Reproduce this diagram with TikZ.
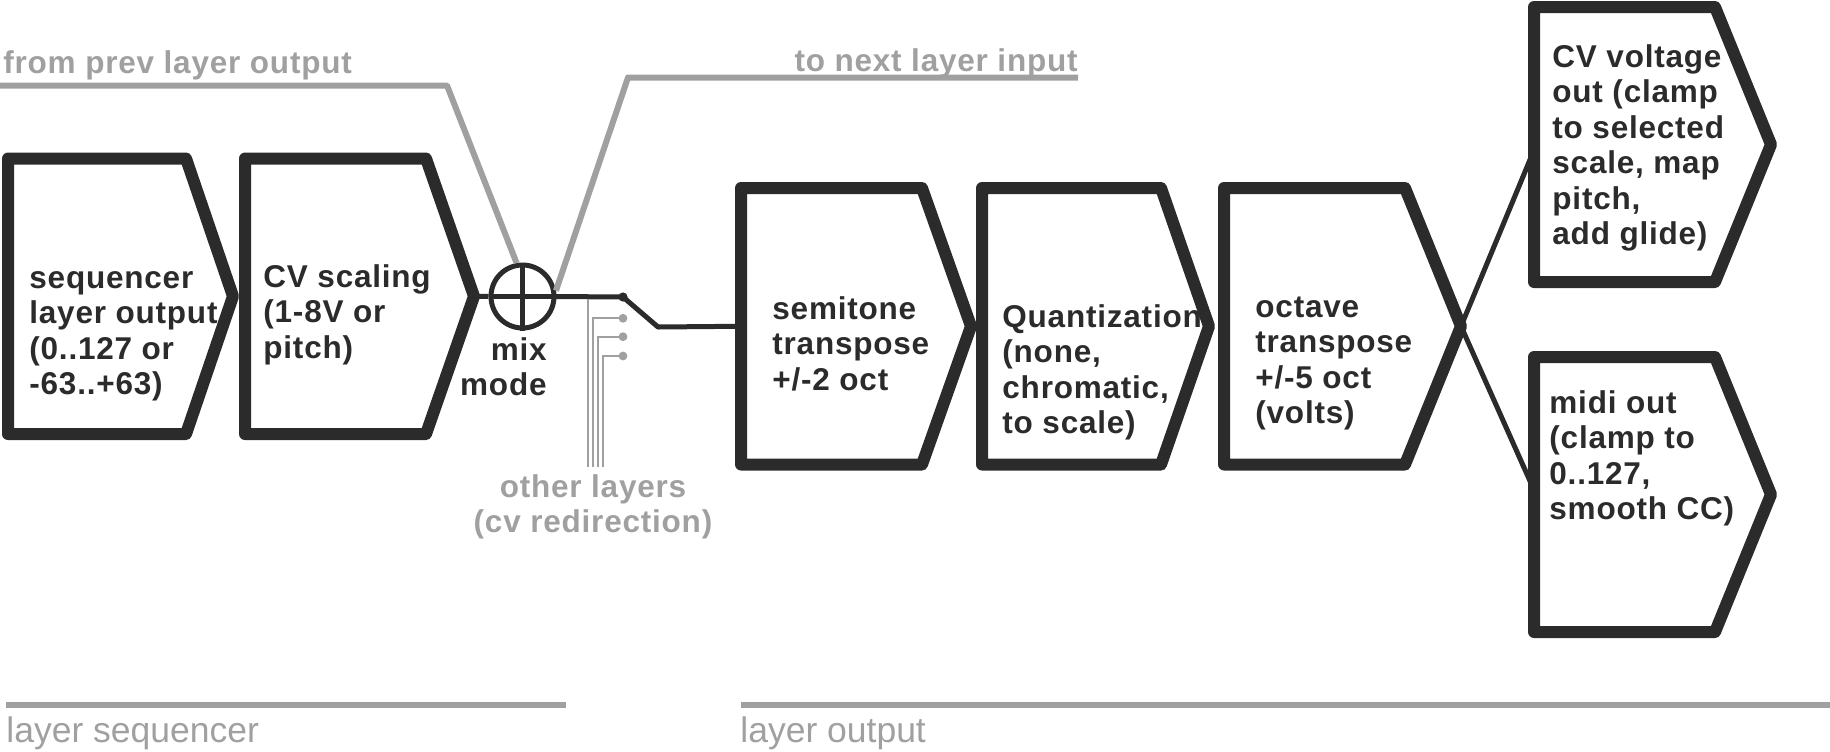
\documentclass[tikz,border=0pt]{standalone}
\usepackage{fontspec}
\setmainfont{Liberation Sans}
\newfontfamily\lblfont{Liberation Sans}[LetterSpace=2.5]
\definecolor{ink}{HTML}{2B2B2B}
\definecolor{lgray}{HTML}{A0A0A0}
% #1 name, #2 left, #3 top, #4 bottom, #5 corner x, #6 tip x
\newcommand{\arrbox}[6]{%
  \draw[boxline] (#2,#3) -- (#5,#3) -- (#6,{(#3+#4)/2}) -- (#5,#4) -- (#2,#4) -- cycle;
  \coordinate (#1-w) at (#2,{(#3+#4)/2});
  \coordinate (#1-e) at (#6,{(#3+#4)/2});
}
\newcommand{\blkl}[1]{\begin{tabular}[t]{@{}l@{}}#1\end{tabular}}
\newcommand{\blkr}[1]{\begin{tabular}[t]{@{}r@{}}#1\end{tabular}}
\newcommand{\blkc}[1]{\begin{tabular}[t]{@{}c@{}}#1\end{tabular}}
\begin{document}
\begin{tikzpicture}[x=0.5pt,y=-0.5pt,
  boxline/.style={draw=ink, line width=6pt, line join=round},
  conn/.style={draw=ink, line width=2.5pt},
  grayline/.style={draw=lgray, line width=3pt},
  tapline/.style={draw=lgray, line width=1pt},
  lblfnt/.style={font=\lblfont\bfseries\fontsize{15.75pt}{17.75pt}\selectfont},
  boxtext/.style={lblfnt, anchor=base west, inner sep=0pt, text=ink},
  graytext/.style={lblfnt, inner sep=0pt, text=lgray},
  sectext/.style={anchor=base west, inner sep=0pt, text=lgray, font=\fontsize{17.75pt}{20pt}\selectfont}]
\useasboundingbox (0,0) rectangle (1830,751);

% boxes
\arrbox{b1}{8}{158.5}{434}{186}{233}
\arrbox{b2}{245}{158.5}{434}{426}{474}
\arrbox{b3}{741}{188}{464.5}{922}{971}
\arrbox{b4}{982}{188}{464.5}{1161}{1209}
\arrbox{b5}{1224}{188}{464.5}{1405}{1461}
\arrbox{b6}{1534}{7}{282}{1715}{1771}
\arrbox{b7}{1534}{357}{632}{1715}{1771}

% box texts
\node[boxtext] (t1) at (29,288) {\blkl{sequencer\\layer output\\(0..127 or\\-63..+63)}};
\node[boxtext] (t2) at (263,287) {\blkl{CV scaling\\(1-8V or\\pitch)}};
\node[boxtext] (t3) at (772,319) {\blkl{semitone\\transpose\\+/-2 oct}};
\node[boxtext] (t4) at (1002,327) {\blkl{Quantization\\(none,\\chromatic,\\to scale)}};
\node[boxtext] (t5) at (1255,317) {\blkl{octave\\transpose\\+/-5 oct\\(volts)}};
\node[boxtext] (t6) at (1552,67) {\blkl{CV voltage\\out (clamp\\to selected\\scale, map\\pitch,\\add glide)}};
\node[boxtext] (t7) at (1549,413) {\blkl{midi out\\(clamp to\\0..127,\\smooth CC)}};

% mixer
\node[circle, draw=ink, line width=2.5pt, minimum size=31.5pt, inner sep=0pt] (mix) at (522.5,296.5) {};
\draw[conn] (mix.north) -- (mix.south);
\draw[conn] (b2-e) -- (mix.west);
\draw[conn] (mix.west) -- (mix.east);
\node[boxtext, anchor=base east] (lblmix) at (547,360) {\blkr{mix\\mode}};

% switch
\coordinate (sw) at (623,297);
\coordinate (sk) at (658,327);
\draw[conn, line join=round] (mix.east) -- (sw) -- (sk) -- (b3-w);
\fill[ink] (sw) circle[radius=2.3pt];

% other layer taps
\coordinate (v0) at (588.3,299);
\coordinate (v0b) at (588.3,466.7);
\coordinate (ta) at (623,318.3);
\coordinate (tb) at (623,336.7);
\coordinate (tc) at (623,356);
\draw[tapline] (v0) -- (v0b);
\draw[tapline] (ta) -| (593.3,466.7);
\draw[tapline] (tb) -| (598.3,466.7);
\draw[tapline] (tc) -| (603.3,466.7);
\fill[lgray] (ta) circle[radius=2.2pt] (tb) circle[radius=2.2pt] (tc) circle[radius=2.2pt];
\node[graytext, anchor=base] (lblother) at (593,497) {\blkc{other layers\\(cv redirection)}};

% prev / next layer
\coordinate (pv0) at (0,85.5);
\coordinate (pv1) at (447,85.5);
\draw[grayline, line join=round] (pv0) -- (pv1) -- (mix.100);
\node[graytext, anchor=base west] (lblprev) at (3,73) {from prev layer output};
\coordinate (nx0) at (628,77.5);
\coordinate (nx1) at (1078,77.5);
\draw[grayline, line join=round] (mix.10) -- (nx0) -- (nx1);
\node[graytext, anchor=base east] (lblnext) at (1078,71) {to next layer input};

% outputs
\coordinate (b6in) at (1534,150);
\coordinate (b7in) at (1534,490);
\draw[conn] (b5-e) -- (b6in);
\draw[conn] (b5-e) -- (b7in);

% sections
\coordinate (s1a) at (6,705);
\coordinate (s1b) at (566,705);
\coordinate (s2a) at (741,705);
\coordinate (s2b) at (1830,705);
\draw[grayline] (s1a) -- (s1b);
\draw[grayline] (s2a) -- (s2b);
\node[sectext] (lblseq) at (6,742) {layer sequencer};
\node[sectext] (lblout) at (740,742) {layer output};
\end{tikzpicture}
\end{document}
